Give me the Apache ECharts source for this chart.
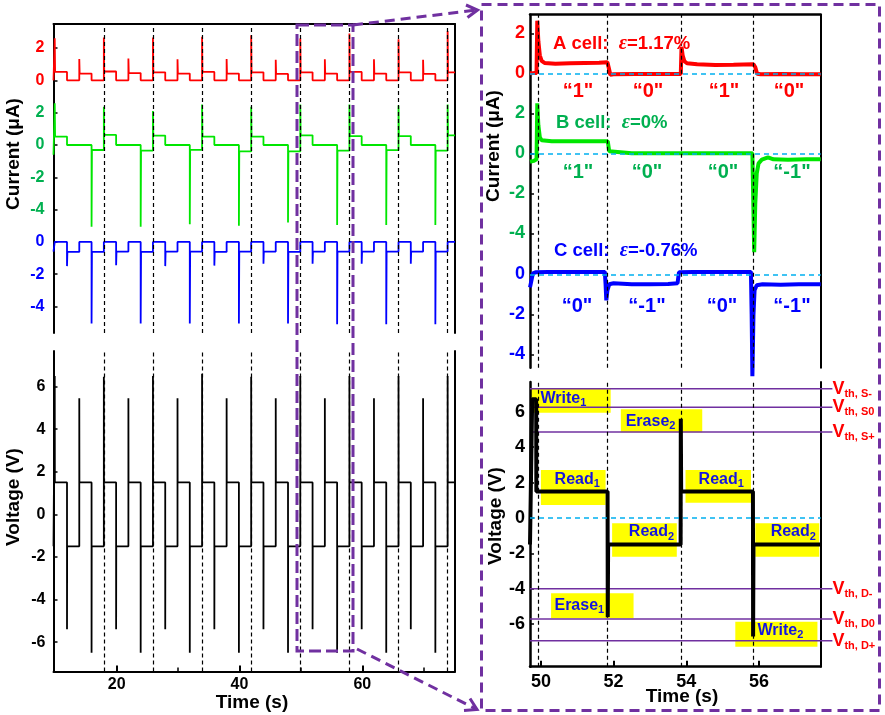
<!DOCTYPE html>
<html>
<head>
<meta charset="utf-8">
<script src="https://cdn.jsdelivr.net/npm/echarts@6/dist/echarts.min.js"></script>
<style>
  html, body { margin: 0; padding: 0; background: #fff; }
  #chart { width: 885px; height: 715px; }
</style>
</head>
<body>
<div id="chart"></div>
<script>
// ---------- long run (left panel): one 8 s program cycle per entry ----------
const cycleStart      = [9.9, 17.9, 25.9, 33.9, 41.9, 49.9, 57.9, 65.9, 73.9];
// A cell current (uA)
const redWritePeak    = [2.60, 2.66, 2.66, 2.70, 2.80, 2.60, 2.90, 2.55, 3.05];
const redRead1        = [0.52, 0.55, 0.50, 0.52, 0.50, 0.50, 0.52, 0.50, 0.50];
const redErasePeak    = [1.32, 1.36, 1.30, 1.32, 1.28, 1.30, 1.30, 1.28];
const redRead1b       = [0.42, 0.45, 0.42, 0.42, 0.40, 0.42, 0.42, 0.40];
// B cell current (uA)
const greenWritePeak  = [2.58, 2.37, 2.10, 2.50, 2.37, 2.50, 2.50, 2.45, 2.50];
const greenRead1      = [0.52, 0.62, 0.58, 0.52, 0.52, 0.60, 0.55, 0.55, 0.60];
const greenWrite2Peak = [-5.06, -5.06, -4.90, -5.00, -4.80, -4.95, -4.95, -4.95];
const greenRead2      = [-0.31, -0.35, -0.30, -0.40, -0.40, -0.35, -0.32, -0.35];
// C cell current (uA)
const blueErasePeak   = [-1.50, -1.45, -1.50, -1.47, -1.35, -1.35, -1.35, -1.35];
const blueRead2       = [-0.62, -0.60, -0.60, -0.62, -0.60, -0.60, -0.60, -0.60];
const blueWrite2Peak  = [-5.06, -5.06, -5.06, -5.06, -5.06, -5.10, -5.10, -5.10];
const blueRead2b      = [-0.62, -0.62, -0.60, -0.60, -0.62, -0.60, -0.60, -0.60];
// applied voltage (V)
const vWritePeak      = [6.50, 6.46, 6.50, 6.60, 6.46, 6.50, 6.50, 6.50, 6.50];
const vErase1Peak     = [-5.40, -5.40, -5.40, -5.40, -5.40, -5.40, -5.40, -5.40];
const vErase2Peak     = [5.45, 5.45, 5.45, 5.45, 5.45, 5.45, 5.45, 5.45];
const vWrite2Peak     = [-6.50, -6.50, -6.50, -6.50, -6.50, -6.50, -6.50, -6.50];
const readHigh = 1.5;
const readLow = -1.5;

// ---------- one cycle in detail (right panel), [time s, value] ----------
const zoomRed = [
  [49.70, 0.00], [49.80, 0.01], [49.88, 0.02], [49.90, 2.63], [49.93, 1.60], [49.97, 0.90],
  [50.02, 0.62], [50.10, 0.52], [50.40, 0.48], [50.80, 0.50], [51.20, 0.52], [51.60, 0.53],
  [51.83, 0.55], [51.87, 0.25], [51.91, -0.07], [52.00, -0.05], [52.60, -0.03], [53.20, -0.04],
  [53.85, -0.03], [53.87, 1.33], [53.90, 0.90], [53.95, 0.60], [54.02, 0.50], [54.30, 0.45],
  [54.80, 0.42], [55.30, 0.43], [55.85, 0.45], [55.90, 0.30], [55.95, -0.02], [56.05, -0.05],
  [56.60, -0.04], [57.20, -0.05], [57.70, -0.05]
];
const zoomGreen = [
  [49.70, -0.42], [49.80, -0.38], [49.88, -0.30], [49.90, 2.50], [49.93, 1.40], [49.97, 0.80],
  [50.02, 0.65], [50.30, 0.60], [51.00, 0.60], [51.50, 0.60], [51.84, 0.60], [51.88, 0.10],
  [51.92, 0.00], [52.50, 0.00], [53.20, 0.00], [54.00, 0.00], [54.80, 0.00], [55.50, 0.00],
  [55.82, 0.00], [55.84, -2.00], [55.87, -4.95], [55.90, -2.50], [55.94, -1.00], [55.99, -0.50],
  [56.08, -0.32], [56.25, -0.20], [56.40, -0.30], [56.80, -0.32], [57.30, -0.30], [57.70, -0.30]
];
const zoomBlue = [
  [49.70, -0.65], [49.74, -0.30], [49.78, 0.05], [49.85, 0.10], [50.20, 0.12], [50.80, 0.12],
  [51.40, 0.12], [51.76, 0.12], [51.78, -0.50], [51.80, -1.30], [51.83, -0.80], [51.88, -0.50],
  [52.00, -0.45], [52.50, -0.50], [53.00, -0.50], [53.50, -0.48], [53.76, -0.45], [53.80, 0.10],
  [54.20, 0.12], [54.80, 0.12], [55.40, 0.12], [55.78, 0.12], [55.80, -2.00], [55.82, -5.10],
  [55.85, -2.00], [55.88, -0.80], [55.94, -0.55], [56.10, -0.50], [56.60, -0.52], [57.10, -0.50],
  [57.70, -0.50]
];
const zoomVoltage = [
  [49.70, -1.5], [49.755, -1.5], [49.76, 6.7], [49.87, 6.7], [49.875, 1.5], [51.835, 1.5],
  [51.84, -5.6], [51.85, -1.5], [53.845, -1.5], [53.85, 5.6], [53.86, 1.5], [55.835, 1.5],
  [55.84, -6.7], [55.85, -1.5], [57.70, -1.5]
];
const zoomEvents = [49.92, 51.82, 53.86, 55.84];

// threshold voltages of the three cells (V)
const thresholdNames  = ['S-', 'S0', 'S+', 'D-', 'D0', 'D+'];
const thresholdValues = [7.30, 6.25, 4.85, -4.00, -5.70, -6.93];

// pulse annotations: name, subscript, time span, voltage span, text nudge
const pulseBoxes = [
  ['Write', '1', [49.70, 51.92], [5.95, 7.33], [-7, -2]],
  ['Erase', '2', [52.20, 54.44], [4.84, 6.14], [-11, 1]],
  ['Read',  '1', [50.00, 51.78], [0.73, 2.71], [4, -8]],
  ['Read',  '1', [53.98, 55.78], [0.86, 2.71], [3, -7]],
  ['Read',  '2', [51.96, 53.74], [-2.19, -0.30], [7, -8]],
  ['Read',  '2', [55.90, 57.66], [-2.19, -0.30], [6, -8]],
  ['Erase', '1', [50.28, 52.55], [-5.67, -4.25], [-13, 0]],
  ['Write', '2', [55.35, 57.61], [-7.27, -5.86], [4, -4]]
];

// ---------- build step traces for the long run ----------
const leftMax = 75.1;
function buildRed() {
  const d = [[9.7, 0]];
  cycleStart.forEach((t0, k) => {
    d.push([t0, 0], [t0, redWritePeak[k]], [t0 + 0.06, redRead1[k]]);
    if (redErasePeak[k] === undefined) { d.push([leftMax, redRead1[k]]); return; }
    d.push([t0 + 2, redRead1[k]], [t0 + 2, 0], [t0 + 4, 0], [t0 + 4, redErasePeak[k]],
           [t0 + 4.06, redRead1b[k]], [t0 + 6, redRead1b[k]], [t0 + 6, 0]);
  });
  return d;
}
function buildGreen() {
  const d = [[9.7, -0.6]];
  cycleStart.forEach((t0, k) => {
    d.push([t0, d[d.length - 1][1]], [t0, greenWritePeak[k]], [t0 + 0.06, greenRead1[k]]);
    if (greenWrite2Peak[k] === undefined) { d.push([leftMax, greenRead1[k]]); return; }
    d.push([t0 + 2, greenRead1[k]], [t0 + 2, 0], [t0 + 6, 0], [t0 + 6, greenWrite2Peak[k]],
           [t0 + 6.06, greenRead2[k]], [t0 + 8, greenRead2[k]]);
  });
  return d;
}
function buildBlue() {
  const d = [[9.7, -0.6]];
  cycleStart.forEach((t0, k) => {
    d.push([t0, d[d.length - 1][1]], [t0, 0]);
    if (blueErasePeak[k] === undefined) { d.push([leftMax, 0]); return; }
    d.push([t0 + 2, 0], [t0 + 2, blueErasePeak[k]], [t0 + 2.06, blueRead2[k]], [t0 + 4, blueRead2[k]],
           [t0 + 4, 0], [t0 + 6, 0], [t0 + 6, blueWrite2Peak[k]], [t0 + 6.06, blueRead2b[k]],
           [t0 + 8, blueRead2b[k]]);
  });
  return d;
}
function buildVoltage() {
  const d = [[9.7, readLow]];
  cycleStart.forEach((t0, k) => {
    d.push([t0, readLow], [t0, vWritePeak[k]], [t0 + 0.02, readHigh]);
    if (vErase1Peak[k] === undefined) { d.push([leftMax, readHigh]); return; }
    d.push([t0 + 2, readHigh], [t0 + 2, vErase1Peak[k]], [t0 + 2.02, readLow], [t0 + 4, readLow],
           [t0 + 4, vErase2Peak[k]], [t0 + 4.02, readHigh], [t0 + 6, readHigh], [t0 + 6, vWrite2Peak[k]],
           [t0 + 6.02, readLow], [t0 + 8, readLow]);
  });
  return d;
}

// ---------- styling ----------
const FONT = '"Liberation Sans", Arial, sans-serif';
const RED = '#ff0000', GREEN = '#00e600', GREEN_TXT = '#00b050', BLUE = '#0000ff', LABEL_BLUE = '#1414e0';
const PURPLE = '#7030a0', ZERO = '#00b0f0';

function frameAxis(grid, pos) {
  return {
    type: 'value', gridIndex: grid, position: pos, min: 0, max: 1,
    axisLine: { show: true, onZero: false, lineStyle: { color: '#000', width: 2 } },
    axisTick: { show: false }, axisLabel: { show: false }, splitLine: { show: false }
  };
}
function hiddenAxis(grid, min, max) {
  return {
    type: 'value', gridIndex: grid, min: min, max: max, show: false,
    axisLine: { onZero: false }, splitLine: { show: false }
  };
}
function yAxisFor(grid, min, max, values, color, size, margin, showLine, lw) {
  return {
    type: 'value', gridIndex: grid, position: 'left', min: min, max: max,
    axisLine: { show: showLine, onZero: false, lineStyle: { color: '#000', width: lw } },
    axisTick: { show: true, inside: true, length: 4, customValues: values, lineStyle: { color: '#000', width: 1.5 } },
    axisLabel: { customValues: values, color: color, fontSize: size, fontWeight: 'bold', fontFamily: FONT, margin: margin },
    splitLine: { show: false }
  };
}
const vLineStyle = { color: '#000', type: [4, 3], width: 1.2 };
function vMarks(times) {
  return {
    silent: true, symbol: ['none', 'none'], label: { show: false }, animation: false,
    lineStyle: vLineStyle, data: times.map(t => ({ xAxis: t }))
  };
}
const zeroLine = { yAxis: 0, lineStyle: { color: ZERO, type: [5, 4], width: 1.5 } };

const leftDashTimes = cycleStart.filter(t => t > 12);

const series = [
  // long run currents
  { type: 'line', xAxisIndex: 0, yAxisIndex: 0, data: buildRed(), showSymbol: false, lineStyle: { color: RED, width: 1.8 }, markLine: vMarks(leftDashTimes) },
  { type: 'line', xAxisIndex: 0, yAxisIndex: 1, data: buildGreen(), showSymbol: false, lineStyle: { color: GREEN, width: 1.8 } },
  { type: 'line', xAxisIndex: 0, yAxisIndex: 2, data: buildBlue(), showSymbol: false, lineStyle: { color: BLUE, width: 1.8 } },
  // long run voltage
  { type: 'line', xAxisIndex: 1, yAxisIndex: 4, data: buildVoltage(), showSymbol: false, lineStyle: { color: '#000', width: 1.8 }, markLine: vMarks(leftDashTimes) },
  // detailed currents
  { type: 'line', xAxisIndex: 3, yAxisIndex: 6, data: zoomRed, showSymbol: false, lineStyle: { color: RED, width: 4 },
    markLine: Object.assign(vMarks(zoomEvents), { data: zoomEvents.map(t => ({ xAxis: t })).concat([zeroLine]) }) },
  { type: 'line', xAxisIndex: 3, yAxisIndex: 7, data: zoomGreen, showSymbol: false, lineStyle: { color: GREEN, width: 4 },
    markLine: Object.assign(vMarks([]), { data: [zeroLine] }) },
  { type: 'line', xAxisIndex: 3, yAxisIndex: 8, data: zoomBlue, showSymbol: false, clip: false, lineStyle: { color: BLUE, width: 4 },
    markLine: Object.assign(vMarks([]), { data: [zeroLine] }) }
];
// threshold levels: drawn on an overlay grid that runs a little past the frame
const thrTimeEnd = 58.03;
thresholdValues.forEach((v, i) => {
  series.push({
    type: 'line', xAxisIndex: 5, yAxisIndex: 12, showSymbol: false,
    data: [[49.7, v], [thrTimeEnd, v]], lineStyle: { color: PURPLE, width: 1.5 },
    endLabel: {
      show: true, distance: 0, formatter: '{v|V}{s|th, ' + thresholdNames[i] + '}',
      rich: {
        v: { fontSize: 18, fontWeight: 'bold', color: RED, fontFamily: FONT },
        s: { fontSize: 11, fontWeight: 'bold', color: RED, fontFamily: FONT, padding: [10, 0, 0, 0] }
      }
    }
  });
});
// detailed voltage with pulse boxes
series.push({
  type: 'line', xAxisIndex: 4, yAxisIndex: 10, z: 3, data: zoomVoltage, showSymbol: false, lineStyle: { color: '#000', width: 4 },
  markLine: Object.assign(vMarks(zoomEvents), { data: zoomEvents.map(t => ({ xAxis: t })).concat([zeroLine]) }),
  markArea: {
    silent: true, animation: false, z: 0,
    itemStyle: { color: '#ffff00' },
    data: pulseBoxes.map(b => [
      { xAxis: b[2][0], yAxis: b[3][1], name: b[0] + '|' + b[1], label: { offset: b[4] } },
      { xAxis: b[2][1], yAxis: b[3][0] }
    ]),
    label: {
      show: true, position: 'inside',
      formatter: p => { const s = p.name.split('|'); return '{m|' + s[0] + '}{s|' + s[1] + '}'; },
      rich: {
        m: { fontSize: 16, fontWeight: 'bold', color: LABEL_BLUE, fontFamily: FONT },
        s: { fontSize: 11, fontWeight: 'bold', color: LABEL_BLUE, fontFamily: FONT, padding: [9, 0, 0, 0] }
      }
    }
  }
});

// ---------- annotations ----------
function txt(x, y, text, color, size, align, rich) {
  return {
    type: 'text', x: x, y: y, silent: true, z: 100,
    style: { text: text, fill: color, font: 'bold ' + size + 'px ' + FONT, align: align || 'center', verticalAlign: 'middle', rich: rich }
  };
}
function vtxt(x, y, text, size) {
  return {
    type: 'text', x: x, y: y, rotation: Math.PI / 2, silent: true, z: 100,
    style: { text: text, fill: '#000', font: 'bold ' + size + 'px ' + FONT, align: 'center', verticalAlign: 'middle' }
  };
}
function cellTxt(x, y, name, eps, color) {
  return txt(x, y, '{a|' + name + '  }{e|ε}{a|=' + eps + '}', color, 18, 'left', {
    a: { fontSize: 18.5, fontWeight: 'bold', fill: color, fontFamily: FONT },
    e: { fontSize: 20, fontWeight: 'bold', fontStyle: 'italic', fill: color, fontFamily: '"Liberation Serif", serif' }
  });
}
const dash = [10, 6];
const graphic = [
  vtxt(14, 154, 'Current (μA)', 19),
  vtxt(14, 497, 'Voltage (V)', 19),
  txt(252, 703, 'Time (s)', '#000', 19),
  vtxt(494, 146, 'Current (μA)', 19),
  vtxt(496, 516, 'Voltage (V)', 19),
  txt(682, 697, 'Time (s)', '#000', 19),
  cellTxt(553, 44, 'A cell:', '1.17%', RED),
  cellTxt(556, 123, 'B cell:', '0%', GREEN_TXT),
  cellTxt(554, 251, 'C cell:', '-0.76%', BLUE),
  txt(578, 91, '“1"', RED, 20), txt(648, 91, '“0"', RED, 20), txt(724, 91, '“1"', RED, 20), txt(789, 91, '“0"', RED, 20),
  txt(578, 172, '“1"', GREEN_TXT, 20), txt(647, 172, '“0"', GREEN_TXT, 20), txt(723, 172, '“0"', GREEN_TXT, 20), txt(792, 172, '“-1"', GREEN_TXT, 20),
  txt(577, 306, '“0"', BLUE, 20), txt(647, 306, '“-1"', BLUE, 20), txt(722, 306, '“0"', BLUE, 20), txt(792, 306, '“-1"', BLUE, 20),
  // zoom window and call-out
  { type: 'rect', silent: true, z: 90, shape: { x: 297, y: 25, width: 56, height: 626 },
    style: { fill: 'none', stroke: PURPLE, lineWidth: 3, lineDash: [12, 5] } },
  { type: 'rect', silent: true, z: 90, shape: { x: 481.5, y: 4.5, width: 398, height: 706 },
    style: { fill: 'none', stroke: PURPLE, lineWidth: 3, lineDash: dash } },
  { type: 'line', silent: true, z: 90, shape: { x1: 353, y1: 25, x2: 477, y2: 10 },
    style: { stroke: PURPLE, lineWidth: 3, lineDash: dash } },
  { type: 'polyline', silent: true, z: 90, shape: { points: [[466, 5], [477.5, 10], [467.5, 17.5]] },
    style: { stroke: PURPLE, lineWidth: 3, fill: 'none' } },
  { type: 'line', silent: true, z: 90, shape: { x1: 357, y1: 649, x2: 476, y2: 709 },
    style: { stroke: PURPLE, lineWidth: 3, lineDash: dash } },
  { type: 'polyline', silent: true, z: 90, shape: { points: [[470, 698.5], [477, 709.5], [464, 710.5]] },
    style: { stroke: PURPLE, lineWidth: 3, fill: 'none' } }
];

const option = {
  animation: false,
  textStyle: { fontFamily: FONT },
  grid: [
    { left: 53.5, top: 24, width: 401.5, height: 309 },
    { left: 53.5, top: 351, width: 401.5, height: 320.5 },
    { left: 530, top: 14.7, width: 290.7, height: 353 },
    { left: 530, top: 382, width: 290.7, height: 284.7 },
    // same scale as grid 3, extended to the right for the threshold lines
    { left: 530, top: 382, width: 302.4, height: 284.7 }
  ],
  xAxis: [
    { type: 'value', gridIndex: 0, position: 'top', min: 9.7, max: leftMax,
      axisLine: { onZero: false, lineStyle: { color: '#000', width: 2 } }, axisTick: { show: false }, axisLabel: { show: false }, splitLine: { show: false } },
    { type: 'value', gridIndex: 1, position: 'bottom', min: 9.7, max: leftMax,
      axisLine: { onZero: false, lineStyle: { color: '#000', width: 2 } },
      axisTick: { inside: true, length: 6, customValues: [20, 40, 60], lineStyle: { color: '#000', width: 2 } },
      axisLabel: { customValues: [20, 40, 60], color: '#000', fontSize: 16, fontWeight: 'bold', margin: 5 },
      splitLine: { show: false } },
    { type: 'value', gridIndex: 1, position: 'bottom', min: 9.7, max: leftMax,
      axisLine: { show: false, onZero: false },
      axisTick: { inside: true, length: 4, customValues: [30, 50, 70], lineStyle: { color: '#000', width: 1.5 } },
      axisLabel: { show: false }, splitLine: { show: false } },
    { type: 'value', gridIndex: 2, position: 'top', min: 49.7, max: 57.7,
      axisLine: { onZero: false, lineStyle: { color: '#000', width: 2.5 } }, axisTick: { show: false }, axisLabel: { show: false }, splitLine: { show: false } },
    { type: 'value', gridIndex: 3, position: 'bottom', min: 49.7, max: 57.7,
      axisLine: { onZero: false, lineStyle: { color: '#000', width: 2.5 } },
      axisTick: { inside: true, length: 6, customValues: [50, 52, 54, 56], lineStyle: { color: '#000', width: 2 } },
      axisLabel: { customValues: [50, 52, 54, 56], color: '#000', fontSize: 18, fontWeight: 'bold', margin: 6 },
      splitLine: { show: false } },
    hiddenAxis(4, 49.7, 58.0)
  ],
  yAxis: [
    yAxisFor(0, -15.64, 3.49, [0, 2], RED, 16, 9, true, 2),
    yAxisFor(0, -11.64, 7.49, [-4, -2, 0, 2], GREEN_TXT, 16, 9, false, 2),
    yAxisFor(0, -5.65, 13.52, [-4, -2, 0], BLUE, 16, 9, false, 2),
    frameAxis(0, 'right'),
    yAxisFor(1, -7.38, 7.67, [-6, -4, -2, 0, 2, 4, 6], '#000', 16, 8, true, 2),
    frameAxis(1, 'right'),
    yAxisFor(2, -14.72, 2.93, [0, 2], RED, 18, 5, true, 2.5),
    yAxisFor(2, -10.72, 6.93, [-4, -2, 0, 2], GREEN_TXT, 18, 5, false, 2.5),
    yAxisFor(2, -4.67, 12.98, [-4, -2, 0], BLUE, 18, 5, false, 2.5),
    frameAxis(2, 'right'),
    yAxisFor(3, -8.4, 7.68, [-6, -4, -2, 0, 2, 4, 6], '#000', 18, 5, true, 2.5),
    frameAxis(3, 'right'),
    hiddenAxis(4, -8.4, 7.68)
  ],
  series: series,
  graphic: graphic
};
// the overlay x-axis ends where the threshold lines end
option.xAxis[5].max = thrTimeEnd;

const chart = echarts.init(document.getElementById('chart'), null, { renderer: 'canvas' });
chart.setOption(option);
</script>
</body>
</html>
